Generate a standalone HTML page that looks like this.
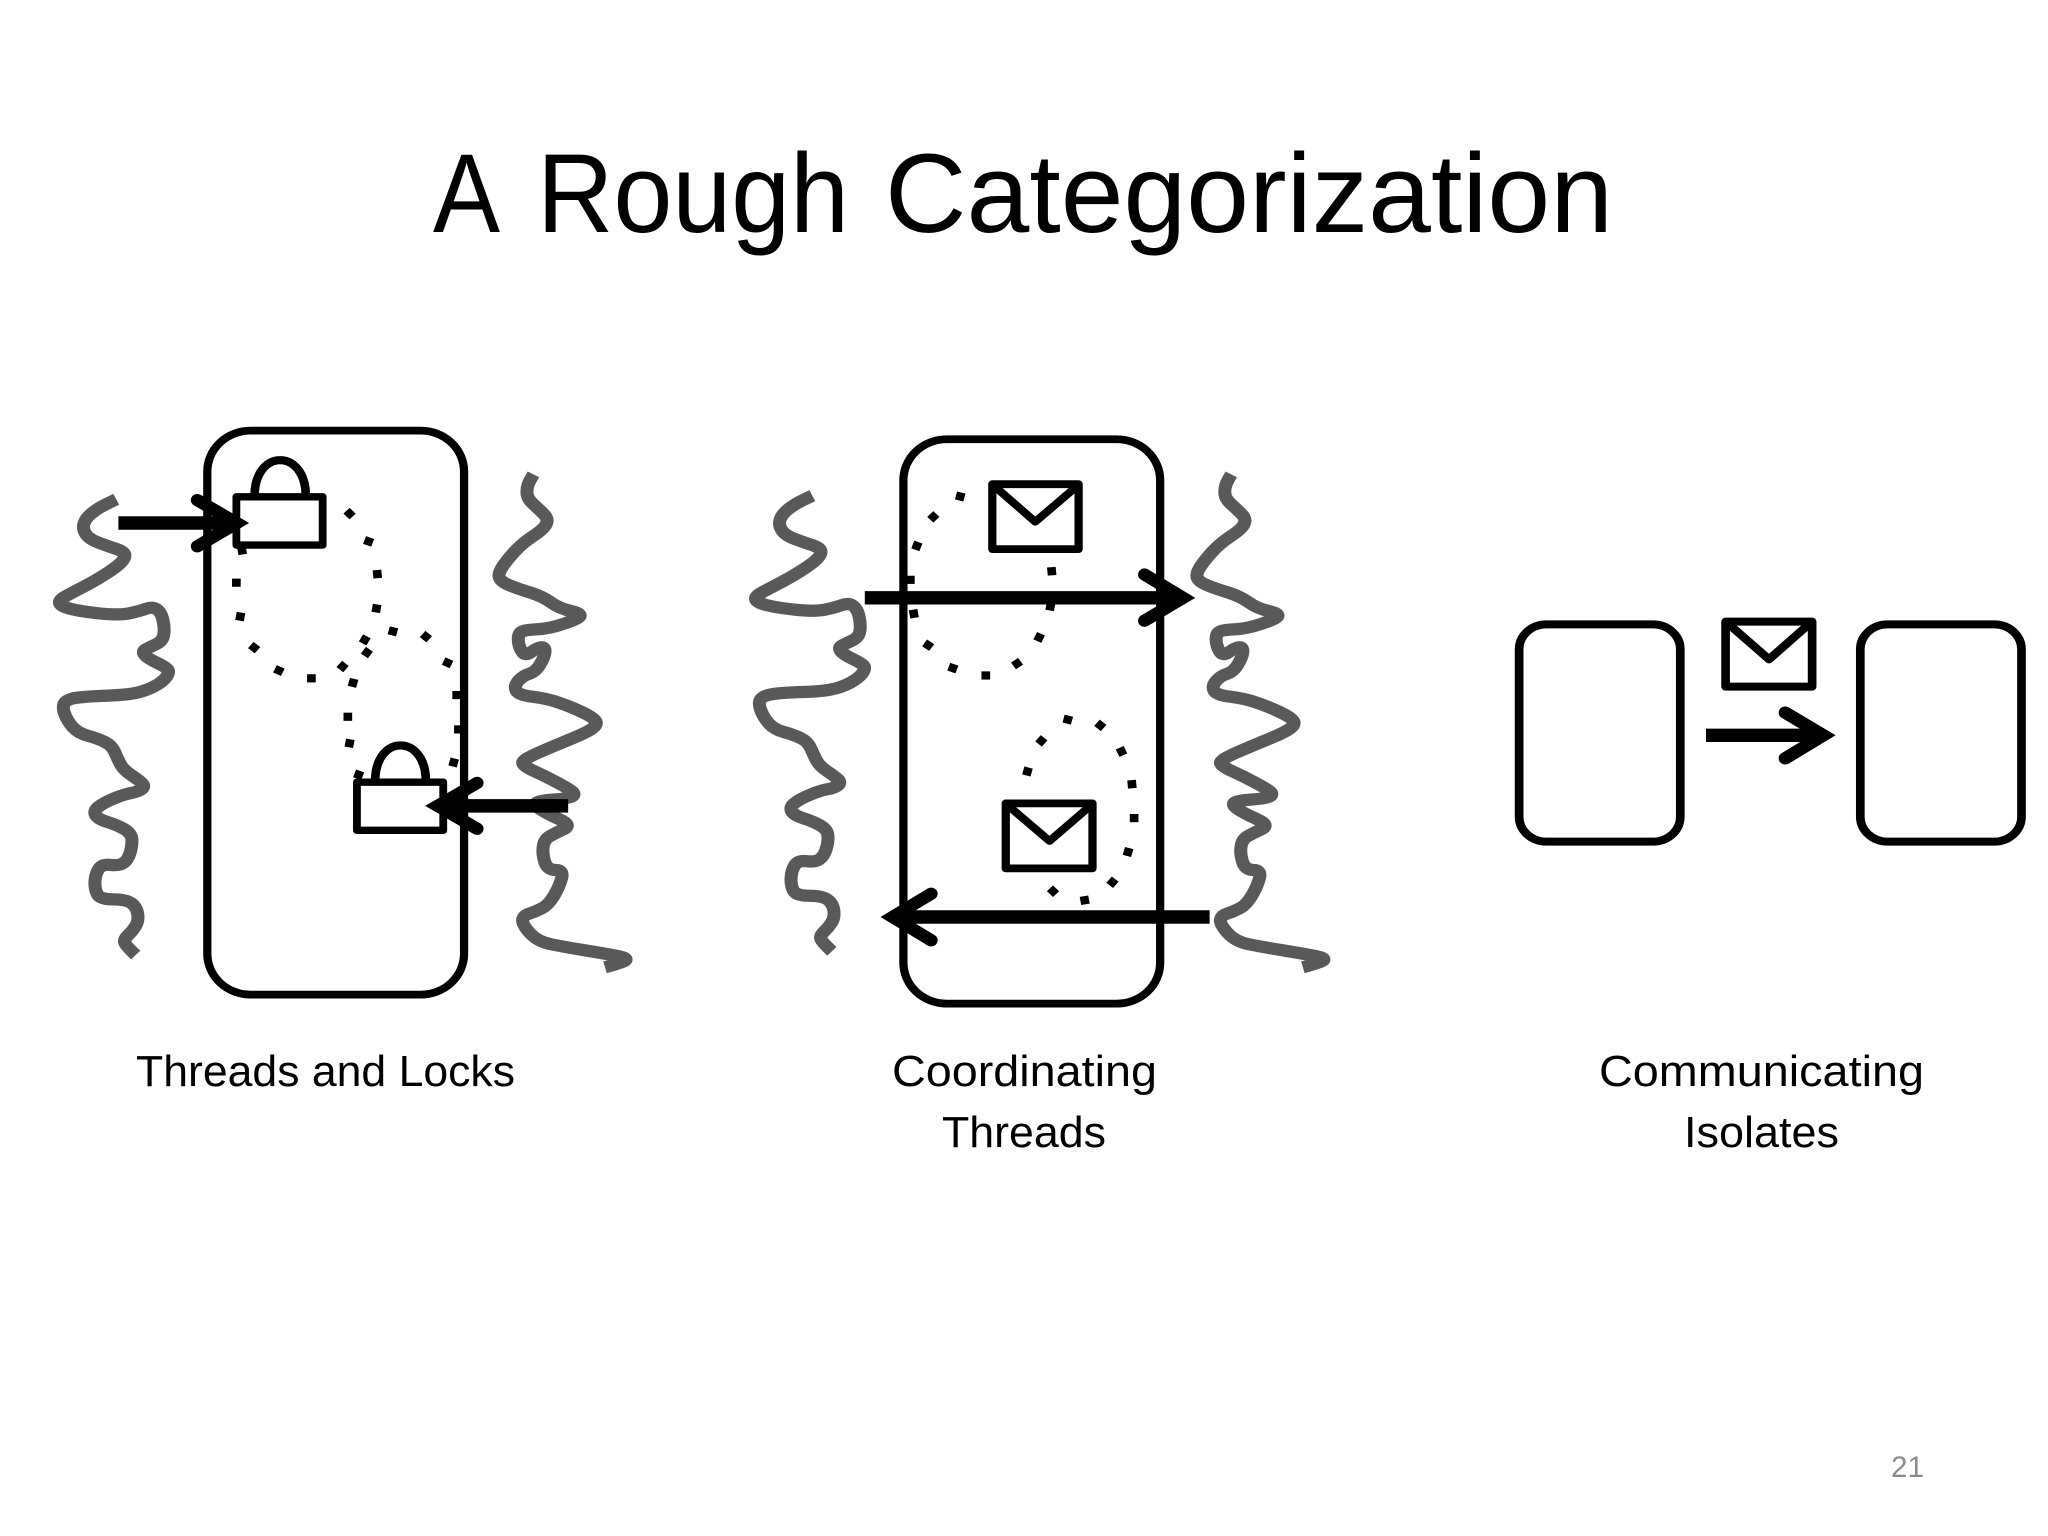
<!DOCTYPE html>
<html><head><meta charset="utf-8"><title>A Rough Categorization</title>
<style>html,body{margin:0;padding:0;background:#fff}svg{display:block}text{font-family:"Liberation Sans",sans-serif;fill:#000}</style></head>
<body>
<svg xmlns="http://www.w3.org/2000/svg" width="2048" height="1536" viewBox="0 0 2048 1536">
<rect width="2048" height="1536" fill="#fff"/>
<defs>
<path id="tl" fill="none" stroke="#595959" stroke-width="30" stroke-linejoin="round" d="M268,243L246.5,254Q225,265 211,277.5Q197,290 193.5,302.5Q190,315 197.5,327.5Q205,340 227.5,349Q250,358 267.5,364Q285,370 287.5,377.5Q290,385 280,396.5Q270,408 242.5,426.5Q215,445 190,458.5Q165,472 150,481Q135,490 137.5,497.5Q140,505 165,511.5Q190,518 232.5,522.5Q275,527 297.5,522Q320,517 336,511Q352,505 362,512.5Q372,520 376,540Q380,560 377.5,575Q375,590 360,597.5Q345,605 336,610Q327,615 333.5,623.5Q340,632 360,642Q380,652 386,658.5Q392,665 383.5,677.5Q375,690 355,701Q335,712 312.5,717Q290,722 245,723.5Q200,725 177.5,728.5Q155,732 149,741Q143,750 149,767.5Q155,785 167.5,800Q180,815 202.5,821.5Q225,828 241.5,836.5Q258,845 265,862.5Q272,880 278.5,892.5Q285,905 302.5,917.5Q320,930 327.5,937.5Q335,945 327.5,951.5Q320,958 302.5,961.5Q285,965 262.5,975Q240,985 227.5,995Q215,1005 220,1015Q225,1025 247.5,1032.5Q270,1040 286.5,1050Q303,1060 304,1075Q305,1090 300,1107.5Q295,1125 285,1132.5Q275,1140 255,1137.5Q235,1135 227.5,1147.5Q220,1160 219,1177.5Q218,1195 224,1208.5Q230,1222 260,1222Q290,1222 302.5,1231Q315,1240 317.5,1257.5Q320,1275 312.5,1287.5Q305,1300 295,1310Q285,1320 287.5,1327.5Q290,1335 313,1358"/>
<path id="tr" fill="none" stroke="#595959" stroke-width="30" stroke-linejoin="round" d="M1230,182L1222.5,196Q1215,210 1215,225Q1215,240 1227.5,252.5Q1240,265 1252.5,277.5Q1265,290 1260,302.5Q1255,315 1230,332.5Q1205,350 1187.5,370Q1170,390 1159,407.5Q1148,425 1151.5,435Q1155,445 1175,453.5Q1195,462 1222.5,471Q1250,480 1270,495Q1290,510 1315,516Q1340,522 1337.5,528.5Q1335,535 1300,547.5Q1265,560 1240,561Q1215,562 1205,566Q1195,570 1195,585Q1195,600 1202.5,614Q1210,628 1225,616.5Q1240,605 1249,605Q1258,605 1256.5,617.5Q1255,630 1245,647.5Q1235,665 1220,670Q1205,675 1195,687.5Q1185,700 1190,711Q1195,722 1227.5,726Q1260,730 1290,741Q1320,752 1345,765Q1370,778 1374,786.5Q1378,795 1364,805Q1350,815 1315,830Q1280,845 1242.5,862.5Q1205,880 1205,887.5Q1205,895 1232.5,908.5Q1260,922 1285,936Q1310,950 1319,957.5Q1328,965 1319,970Q1310,975 1277.5,977.5Q1245,980 1237.5,985Q1230,990 1245,1001Q1260,1012 1290,1026Q1320,1040 1300,1050Q1280,1060 1267.5,1067.5Q1255,1075 1252.5,1092.5Q1250,1110 1256,1130Q1262,1150 1281,1150Q1300,1150 1295,1170Q1290,1190 1277.5,1212.5Q1265,1235 1250,1243.5Q1235,1252 1220,1257Q1205,1262 1205,1273.5Q1205,1285 1222.5,1305Q1240,1325 1270,1331.5Q1300,1338 1340,1345Q1380,1352 1415,1358.5Q1452,1365 1441,1372Q1430,1378 1395,1388"/>
<rect id="d" x="-10" y="-10" width="20" height="20" fill="#000"/>
</defs>

<text x="433" y="232" font-size="112" textLength="67" lengthAdjust="spacingAndGlyphs">A</text>
<text x="537" y="232" font-size="112" textLength="312" lengthAdjust="spacingAndGlyphs">Rough</text>
<text x="885" y="232" font-size="112" textLength="728" lengthAdjust="spacingAndGlyphs">Categorization</text>

<g transform="translate(0,400) scale(0.4337,0.4087)">
<use href="#tl"/><use href="#tr"/>
<rect x="478" y="75" width="592" height="1380" rx="100" fill="none" stroke="#000" stroke-width="19"/>
<g>
<use href="#d" transform="translate(806,278) rotate(45)"/><use href="#d" transform="translate(850,346) rotate(20)"/><use href="#d" transform="translate(870,426) rotate(-5)"/><use href="#d" transform="translate(868,510) rotate(10)"/><use href="#d" transform="translate(841,587) rotate(30)"/><use href="#d" transform="translate(790,652) rotate(40)"/><use href="#d" transform="translate(718,681)"/><use href="#d" transform="translate(643,662) rotate(25)"/><use href="#d" transform="translate(586,606) rotate(40)"/><use href="#d" transform="translate(554,530) rotate(10)"/><use href="#d" transform="translate(545,447)"/><use href="#d" transform="translate(558,368) rotate(-10)"/>
<use href="#d" transform="translate(906,566) rotate(15)"/><use href="#d" transform="translate(982,579) rotate(40)"/><use href="#d" transform="translate(846,618) rotate(35)"/><use href="#d" transform="translate(1032,643) rotate(25)"/><use href="#d" transform="translate(814,692) rotate(15)"/><use href="#d" transform="translate(1053,722)"/><use href="#d" transform="translate(802,775)"/><use href="#d" transform="translate(1057,806)"/><use href="#d" transform="translate(806,840) rotate(10)"/><use href="#d" transform="translate(1046,887) rotate(15)"/><use href="#d" transform="translate(827,917) rotate(20)"/>
</g>
<path d="M587,235C587,118 705,118 705,235" fill="none" stroke="#000" stroke-width="20"/>
<rect x="545" y="237" width="199" height="118" fill="#fff" stroke="#000" stroke-width="18" stroke-linejoin="round"/>
<path d="M865,933C865,816 982,816 982,933" fill="none" stroke="#000" stroke-width="20"/>
<rect x="823" y="935" width="199" height="118" fill="#fff" stroke="#000" stroke-width="18" stroke-linejoin="round"/>
<line x1="273" y1="301" x2="530" y2="301" stroke="#000" stroke-width="33"/>
<polyline points="455,245 546,301 455,358" fill="none" stroke="#000" stroke-width="30" stroke-linecap="round"/>
<line x1="1310" y1="993" x2="1020" y2="993" stroke="#000" stroke-width="33"/>
<polyline points="1100,937 1009,993 1100,1049" fill="none" stroke="#000" stroke-width="30" stroke-linecap="round"/>
</g>

<g transform="translate(700,400) scale(0.4337,0.4087)">
<use href="#tl" transform="translate(-9,-9)"/><use href="#tr" transform="translate(-5,0)"/>
<rect x="469" y="96" width="592" height="1381" rx="100" fill="none" stroke="#000" stroke-width="19"/>
<use href="#d" transform="translate(600,236) rotate(15)"/><use href="#d" transform="translate(538,286) rotate(45)"/><use href="#d" transform="translate(500,357) rotate(20)"/><use href="#d" transform="translate(485,440)"/><use href="#d" transform="translate(493,523) rotate(-10)"/><use href="#d" transform="translate(526,600) rotate(35)"/><use href="#d" transform="translate(583,656) rotate(20)"/><use href="#d" transform="translate(659,674)"/><use href="#d" transform="translate(731,645) rotate(-35)"/><use href="#d" transform="translate(782,581) rotate(25)"/><use href="#d" transform="translate(808,505) rotate(10)"/><use href="#d" transform="translate(811,419) rotate(-5)"/>
<use href="#d" transform="translate(848,782) rotate(15)"/><use href="#d" transform="translate(923,796) rotate(40)"/><use href="#d" transform="translate(787,834) rotate(40)"/><use href="#d" transform="translate(755,909) rotate(15)"/><use href="#d" transform="translate(972,860) rotate(-25)"/><use href="#d" transform="translate(996,940) rotate(-5)"/><use href="#d" transform="translate(1001,1023)"/><use href="#d" transform="translate(987,1106) rotate(15)"/><use href="#d" transform="translate(951,1180) rotate(40)"/><use href="#d" transform="translate(887,1224) rotate(-10)"/><use href="#d" transform="translate(814,1202) rotate(45)"/>
<rect x="674" y="206" width="199" height="159" fill="#fff" stroke="#000" stroke-width="19" stroke-linejoin="round"/>
<polyline points="680,212 773,298 868,212" fill="none" stroke="#000" stroke-width="19" stroke-linejoin="round"/>
<rect x="705" y="987" width="200" height="159" fill="#fff" stroke="#000" stroke-width="19" stroke-linejoin="round"/>
<polyline points="711,993 806,1079 900,993" fill="none" stroke="#000" stroke-width="19" stroke-linejoin="round"/>
<line x1="380" y1="484" x2="1105" y2="484" stroke="#000" stroke-width="33"/>
<polyline points="1025,427 1114,484 1025,540" fill="none" stroke="#000" stroke-width="30" stroke-linecap="round"/>
<line x1="1175" y1="1265" x2="455" y2="1265" stroke="#000" stroke-width="33"/>
<polyline points="533,1208 444,1265 533,1322" fill="none" stroke="#000" stroke-width="30" stroke-linecap="round"/>
</g>

<g transform="translate(1480,590) scale(0.3622,0.3333)">
<rect x="108" y="103" width="445" height="652" rx="75" fill="none" stroke="#000" stroke-width="24"/>
<rect x="1050" y="103" width="445" height="652" rx="75" fill="none" stroke="#000" stroke-width="24"/>
<rect x="678" y="95" width="239" height="195" fill="#fff" stroke="#000" stroke-width="24" stroke-linejoin="round"/>
<polyline points="684,100 798,208 911,100" fill="none" stroke="#000" stroke-width="24" stroke-linejoin="round"/>
<line x1="624" y1="436" x2="935" y2="436" stroke="#000" stroke-width="40"/>
<polyline points="843,368 948,436 843,505" fill="none" stroke="#000" stroke-width="37" stroke-linecap="round"/>
</g>

<text x="136" y="1086" font-size="44" textLength="379" lengthAdjust="spacingAndGlyphs">Threads and Locks</text>
<text x="892" y="1086" font-size="44" textLength="265" lengthAdjust="spacingAndGlyphs">Coordinating</text>
<text x="942" y="1147" font-size="44" textLength="164" lengthAdjust="spacingAndGlyphs">Threads</text>
<text x="1599" y="1086" font-size="44" textLength="325" lengthAdjust="spacingAndGlyphs">Communicating</text>
<text x="1684" y="1147" font-size="44" textLength="155" lengthAdjust="spacingAndGlyphs">Isolates</text>
<text x="1891" y="1477" font-size="30" textLength="33" lengthAdjust="spacingAndGlyphs" style="fill:#8b8b8b">21</text>
</svg>
</body></html>
